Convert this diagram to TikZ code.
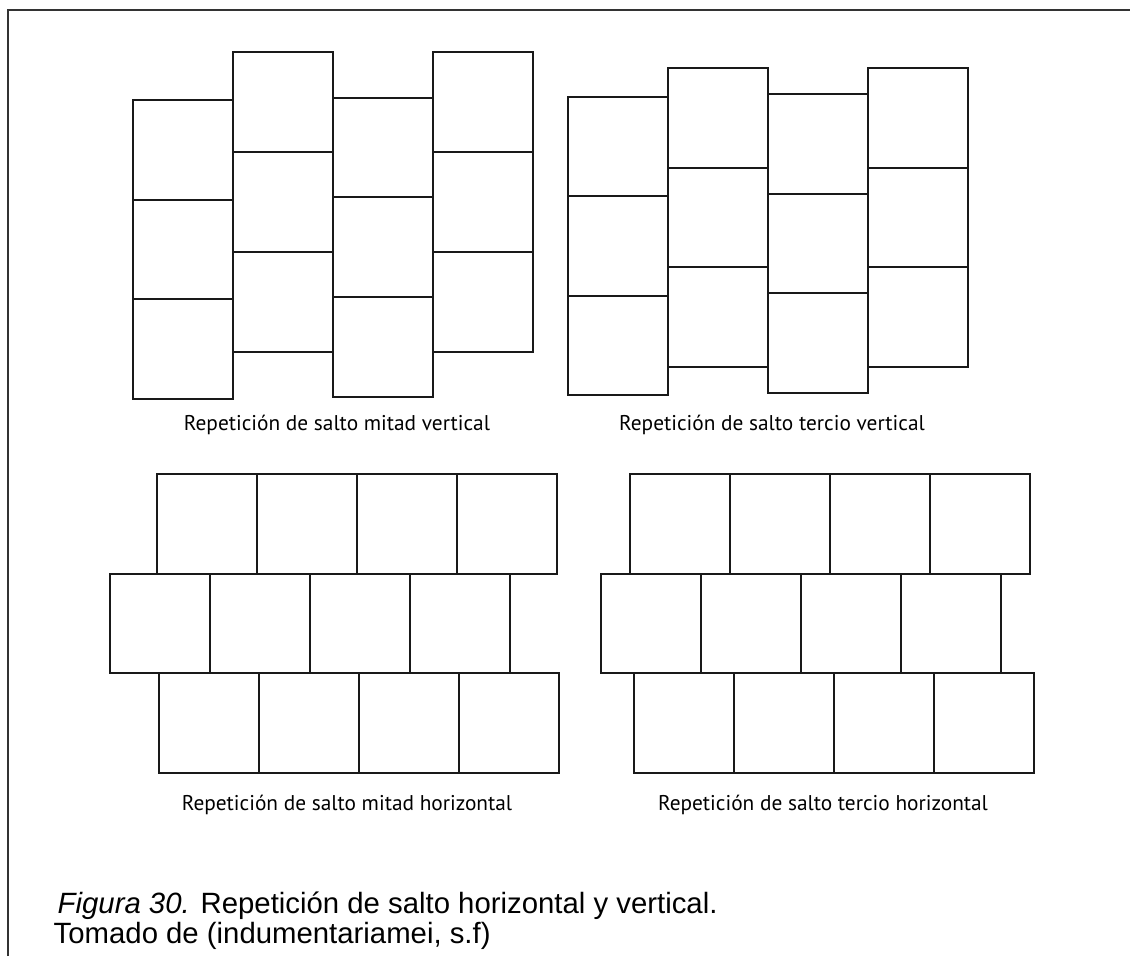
\documentclass[tikz,border=0pt]{standalone}
\usepackage{fontspec}
\setmainfont{Liberation Sans}
\newfontfamily\labelfont{PT Sans}

\begin{document}
\begin{tikzpicture}[x=0.75pt, y=-0.75pt,
  tile/.style={draw=black!90, line width=1.5pt},
  frame/.style={draw=black!80, line width=1.1pt},
  patlabel/.style={font=\labelfont\fontsize{16}{18}\selectfont, anchor=base},
  caption/.style={font=\fontsize{22}{26}\selectfont, anchor=base west}
]
\useasboundingbox (0,0) rectangle (1130,956);

% open frame, left and top
\draw[frame] (8,956) -- (8,10) -- (1130,10);

% salto mitad vertical: columns with their top edge
\foreach \cx/\cy in {133/100, 233/52.5, 333/97.5, 433/52.5}
  \foreach \r in {0,1,2}
    \draw[tile] (\cx,{\cy+\r*99.7}) rectangle ++(100,99.7);

% salto tercio vertical
\foreach \cx/\cy in {568/96.5, 668/68, 768/94, 868/68}
  \foreach \r in {0,1,2}
    \draw[tile] (\cx,{\cy+\r*99.5}) rectangle ++(100,99.5);

% salto mitad horizontal: rows with their left edge
\foreach \cy/\cx in {474/157, 573.5/110, 673/159}
  \foreach \c in {0,...,3}
    \draw[tile] ({\cx+\c*100},\cy) rectangle ++(100,99.5);

% salto tercio horizontal
\foreach \cy/\cx in {474/629.5, 573.5/601, 673/634}
  \foreach \c in {0,...,3}
    \draw[tile] ({\cx+\c*100.1},\cy) rectangle ++(100.1,99.5);

\node[patlabel] (lblMitadV) at (337,430) {Repetición de salto mitad vertical};
\node[patlabel] (lblTercioV) at (772,430) {Repetición de salto tercio vertical};
\node[patlabel] (lblMitadH) at (347,810) {Repetición de salto mitad horizontal};
\node[patlabel] (lblTercioH) at (823,810) {Repetición de salto tercio horizontal};

\node[caption] (figcap) at (53,913) {\textit{Figura 30.} Repetición de salto horizontal y vertical.};
\node[caption] (figsrc) at (49,943) {Tomado de (indumentariamei, s.f)};
\end{tikzpicture}
\end{document}
